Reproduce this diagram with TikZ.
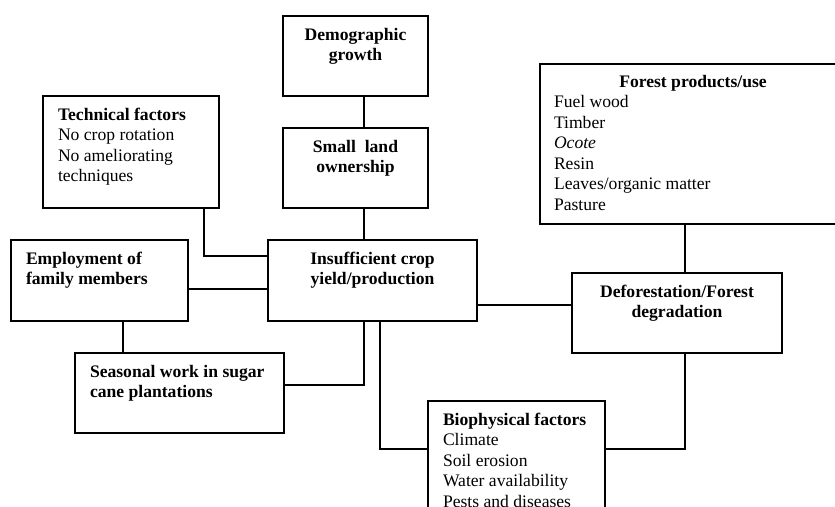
\documentclass[tikz,border=0pt]{standalone}
\usepackage{fontspec}
\setmainfont{Liberation Serif}
\usetikzlibrary{calc}

\newcommand{\cboxtext}[3]{\parbox[c][#2][t]{#1}{\centering\rule{0pt}{24pt}#3}}
\newcommand{\lboxtext}[3]{\parbox[c][#2][t]{#1}{\raggedright\leftskip=15pt\rule{0pt}{24pt}#3}}

\begin{document}
\begin{tikzpicture}[x=1pt,y=-1pt,
  box/.style={draw,line width=1.1pt,inner sep=0pt,outer sep=0pt,anchor=north west,
    font=\fontsize{17.6}{20.5}\selectfont},
  link/.style={line width=1.1pt}]
\useasboundingbox (0,0) rectangle (835,506);
\clip (0,0) rectangle (835,506);
\coordinate (spine) at (364,0);
\node[box] (demo) at (283,16) {\cboxtext{145pt}{80pt}{\textbf{Demographic\\growth}}};
\node[box] (small) at (283,128) {\cboxtext{145pt}{80pt}{\textbf{Small\ \ land\\ownership}}};
\node[box] (tech) at (43,96) {\lboxtext{176pt}{112pt}{\textbf{Technical factors}\\No crop rotation\\No ameliorating\\techniques}};
\node[box] (employ) at (11,240) {\lboxtext{177pt}{81pt}{\textbf{Employment of\\family members}}};
\node[box] (insuf) at (268,240) {\cboxtext{209pt}{81pt}{\textbf{Insufficient crop\\yield/production}}};
\node[box] (season) at (75,353) {\lboxtext{209pt}{80pt}{\textbf{Seasonal work in sugar\\cane plantations}}};
\node[box] (defor) at (572,273) {\cboxtext{210pt}{80pt}{\textbf{Deforestation/Forest\\degradation}}};
\node[box] (forest) at (540,64) {\parbox[c][160pt][t]{306pt}{\centering\rule{0pt}{23pt}\textbf{Forest products/use}\par
  \raggedright\leftskip=14pt Fuel wood\\Timber\\\textit{Ocote}\\Resin\\Leaves/organic matter\\Pasture}};
\node[box] (bio) at (428,401) {\lboxtext{177pt}{160pt}{\textbf{Biophysical factors}\\Climate\\Soil erosion\\Water availability\\Pests and diseases}};
\draw[link] (demo.south -| spine) -- (small.north -| spine);
\draw[link] (small.south -| spine) -- (insuf.north -| spine);
\draw[link] ($(tech.south west)+(161,0)$) |- ($(insuf.north west)+(0,16)$);
\draw[link] ($(employ.north east)+(0,49)$) -- ($(insuf.north west)+(0,49)$);
\draw[link] ($(employ.south west)+(112,0)$) coordinate (e1) -- (e1 |- season.north);
\draw[link] ($(season.north east)+(0,32)$) -| (spine |- insuf.south);
\draw[link] ($(insuf.south west)+(112,0)$) |- ($(bio.north west)+(0,48)$);
\draw[link] ($(insuf.north east)+(0,65)$) -- ($(defor.north west)+(0,32)$);
\draw[link] ($(forest.south west)+(145,0)$) coordinate (f1) -- (f1 |- defor.north);
\draw[link] (f1 |- defor.south) |- ($(bio.north east)+(0,48)$);
\end{tikzpicture}
\end{document}
